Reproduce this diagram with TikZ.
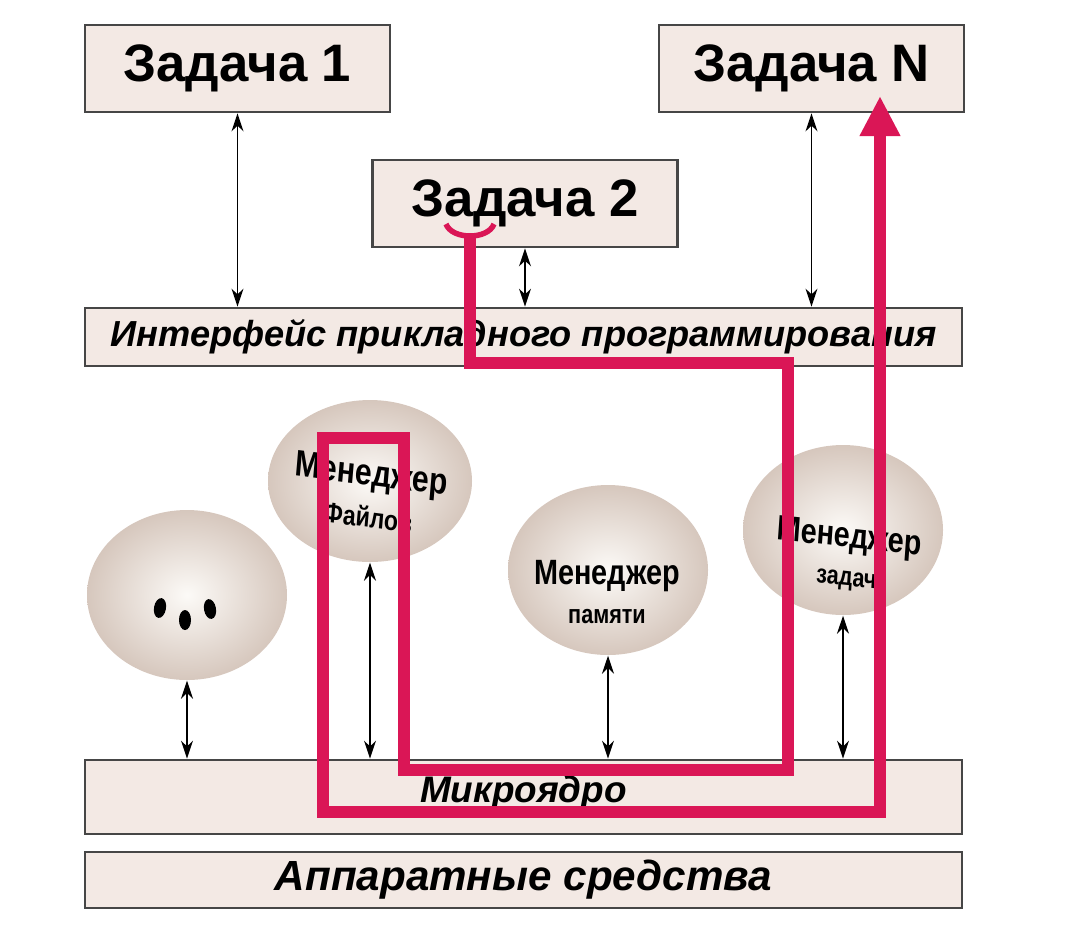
\documentclass[tikz,border=0pt]{standalone}
\usepackage{fontspec}
\setmainfont{Liberation Sans}
\usetikzlibrary{arrows.meta,shapes.geometric}
\definecolor{BoxFill}{RGB}{243,233,228}
\definecolor{BoxLine}{RGB}{70,70,70}
\definecolor{SphereIn}{RGB}{252,250,247}
\definecolor{SphereOut}{RGB}{214,199,189}
\definecolor{RouteRed}{RGB}{218,22,86}

\begin{document}
\begin{tikzpicture}[
    x=0.1mm, y=-0.1mm,
    taskbox/.style={draw=BoxLine, line width=0.8pt, fill=BoxFill, minimum width=3.05cm, minimum height=0.87cm, font=\fontsize{15}{18}\selectfont\bfseries},
    layerbox/.style={draw=BoxLine, line width=0.8pt, fill=BoxFill, minimum width=8.77cm, inner sep=0pt, font=\fontsize{12}{14}\selectfont\bfseries\itshape},
    sphere/.style={ellipse, shading=radial, inner color=SphereIn, outer color=SphereOut, minimum width=2cm, minimum height=1.7cm},
    mgrtext/.style={align=center, font=\fontsize{10}{11}\selectfont\bfseries, inner sep=0pt, xscale=0.82},
    link/.style={{Stealth[length=1.8mm,width=1.2mm]}-{Stealth[length=1.8mm,width=1.2mm]}, thin, black},
    route/.style={line width=1.2mm, draw=RouteRed, line cap=butt},
    cupline/.style={line width=0.55mm, draw=RouteRed}
  ]
    \useasboundingbox (0,0) rectangle (1068,946);
    \node[taskbox] (task1) at (237.5,68.5) {Задача 1};
    \node[taskbox] (taskN) at (811.5,68.5) {Задача N};
    \node[taskbox] (task2) at (525,203.5) {Задача 2};
    \node[layerbox, minimum height=0.58cm, font=\fontsize{10.3}{12}\selectfont\bfseries\itshape] (api) at (523.5,337) {Интерфейс прикладного программирования};
    \node[layerbox, minimum height=0.74cm, text height=0.36cm, text depth=0.26cm, font=\fontsize{10.5}{12}\selectfont\bfseries\itshape] (kernel) at (523.5,797) {Микроядро};
    \node[layerbox, minimum height=0.56cm] (hw) at (523.5,880) {Аппаратные средства};
    \node[sphere] (other) at (187,595) {};
    \node[sphere, minimum width=2.04cm, minimum height=1.62cm] (files) at (370,481) {};
    \node[sphere] (mem) at (608,570) {};
    \node[sphere] (tasks) at (843,530) {};
    \fill[rotate around={-10:(160,608)}] (160,608) ellipse[x radius=6, y radius=10];
    \fill (185,620) ellipse[x radius=6, y radius=10];
    \fill[rotate around={10:(210,609)}] (210,609) ellipse[x radius=6, y radius=10];
    \node[mgrtext, rotate=-6, font=\fontsize{10.5}{12}\selectfont\bfseries] (filestext) at (370,494) {Менеджер\\{\fontsize{8}{8}\selectfont Файлов}};
    \node[mgrtext] (memtext) at (607,592) {Менеджер\\{\fontsize{7.5}{8}\selectfont памяти}};
    \node[mgrtext, rotate=-5] (taskstext) at (848,557) {Менеджер\\{\fontsize{7.5}{8}\selectfont задач}};
    \foreach \a/\b in {task1/api,task2/api,taskN/api,other/kernel,files/kernel,mem/kernel,tasks/kernel} {\draw[link] (\a.south) -- (\a.south |- \b.north);}
    \coordinate (cup) at (470,236);
    \coordinate (up) at (880,96);
    \draw[cupline] (446,224) .. controls (452,240) and (488,240) .. (494,224);
    \draw[route, -{Triangle[width=3.8mm,length=4mm]}] (cup) |- (788,363) |- (404,770) |- (323,438) |- (880,812) -- (up);
  \end{tikzpicture}
\end{document}
